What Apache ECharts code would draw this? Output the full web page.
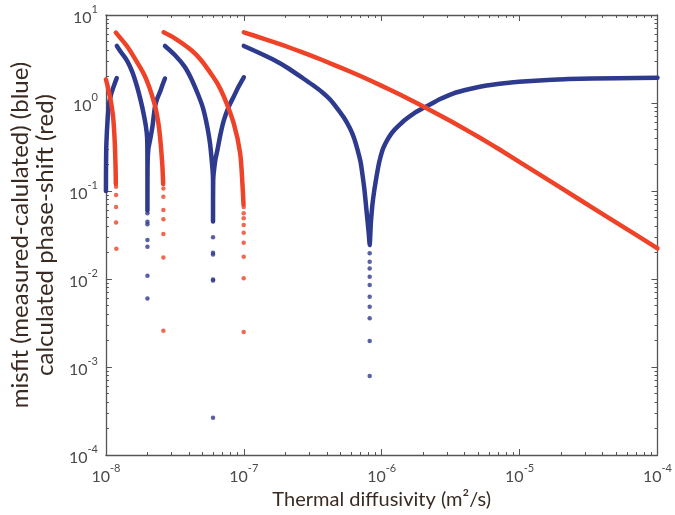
<!DOCTYPE html>
<html><head><meta charset="utf-8">
<script src="https://cdn.jsdelivr.net/npm/echarts@6/dist/echarts.min.js"></script>
<style>html,body{margin:0;padding:0;background:#fff}#c{width:675px;height:515px}</style>
</head><body><div id="c"></div>
<script>
// ---- tick labels ----
const xTicks = [1e-8, 1e-7, 1e-6, 1e-5, 1e-4];
const yTicks = [1e-4, 1e-3, 1e-2, 1e-1, 1e0, 1e1];
const xTitle = 'Thermal diffusivity (m\u00b2/s)';
const yTitle = 'misfit (measured-calulated) (blue)\ncalculated phase-shift (red)';

// ---- blue series: misfit (measured - calculated) ----
const blueCurve1 = [[1.0e-8,0.1],[1.002e-8,0.2],[1.008e-8,0.35],[1.028e-8,0.64],[1.055e-8,1.0],[1.085e-8,1.22],[1.116e-8,1.41],[1.16e-8,1.68],[1.198e-8,1.92]];
const blueCurve2 = [[1.2e-8,4.45],[1.279e-8,3.83],[1.428e-8,3.0],[1.55e-8,2.27],[1.683e-8,1.53],[1.797e-8,1.03],[1.875e-8,0.76],[1.95e-8,0.54],[1.99e-8,0.40],[2.0e-8,0.2],[2.0e-8,0.06],[2.005e-8,0.2],[2.03e-8,0.3],[2.09e-8,0.38],[2.174e-8,0.54],[2.27e-8,0.91],[2.36e-8,1.13],[2.47e-8,1.34],[2.57e-8,1.6],[2.68e-8,1.9]];
const blueDots2 = [[2.0e-8,0.056],[2.0e-8,0.0448],[2.0e-8,0.042],[2.0e-8,0.0277],[2.0e-8,0.0233],[2.0e-8,0.0109],[2.0e-8,0.006]];
const blueCurve3 = [[2.68e-8,4.45],[3.16e-8,3.51],[3.72e-8,2.59],[4.15e-8,1.9],[4.62e-8,1.29],[5.02e-8,0.91],[5.31e-8,0.64],[5.6e-8,0.41],[5.76e-8,0.29],[5.98e-8,0.133],[5.98e-8,0.045],[6.0e-8,0.133],[6.2e-8,0.22],[6.43e-8,0.29],[6.79e-8,0.45],[7.17e-8,0.64],[7.78e-8,0.91],[8.44e-8,1.18],[9.15e-8,1.53],[1.0e-7,1.96]];
const blueDots3 = [[5.98e-8,0.0298],[5.98e-8,0.0199],[5.98e-8,0.019],[5.98e-8,0.0099],[5.98e-8,0.0096],[5.98e-8,0.000265]];
const blueCurve4 = [[1.0e-7,4.45],[1.274e-7,3.75],[1.63e-7,3.12],[2.085e-7,2.50],[2.667e-7,1.923],[3.142e-7,1.61],[3.703e-7,1.327],[4.224e-7,1.096],[4.738e-7,0.877],[5.316e-7,0.684],[5.87e-7,0.52],[6.262e-7,0.411],[6.69e-7,0.292],[7.027e-7,0.2136],[7.26e-7,0.152],[7.5e-7,0.1027],[7.687e-7,0.0693],[7.88e-7,0.0468],[8.05e-7,0.0333],[8.18e-7,0.0243],
  [8.35e-7,0.0444],[8.556e-7,0.0693],[8.84e-7,0.1027],[9.21e-7,0.152],[9.6e-7,0.2136],[1.0084e-6,0.285],[1.059e-6,0.342],[1.131e-6,0.411],[1.208e-6,0.4745],[1.305e-6,0.538],[1.471e-6,0.641],[1.714e-6,0.764],[1.912e-6,0.844],[2.135e-6,0.924],[2.655e-6,1.11],[3.288e-6,1.282],[4.345e-6,1.443],[5.745e-6,1.58],[7.72e-6,1.675],[9.88e-6,1.746],[1.489e-5,1.816],[2.245e-5,1.874],[5.1e-5,1.909],[1.0e-4,1.94]];
const blueDots4 = [[8.18e-7,0.0196],[8.18e-7,0.0157],[8.18e-7,0.0132],[8.18e-7,0.0106],[8.18e-7,0.00855],[8.18e-7,0.0063],[8.18e-7,0.00485],[8.18e-7,0.00358],[8.18e-7,0.00197],[8.18e-7,0.00079]];

// ---- red series: calculated phase-shift ----
const redCurve1 = [[1.0e-8,1.85],[1.03e-8,1.55],[1.05e-8,1.33],[1.08e-8,1.1],[1.103e-8,0.9],[1.125e-8,0.72],[1.14e-8,0.56],[1.155e-8,0.4],[1.165e-8,0.29],[1.175e-8,0.18],[1.18e-8,0.12]];
const redDots1 = [[1.185e-8,0.112],[1.185e-8,0.09],[1.185e-8,0.066],[1.185e-8,0.044],[1.19e-8,0.022]];
const redCurve2 = [[1.18e-8,6.3],[1.279e-8,5.43],[1.428e-8,4.39],[1.591e-8,3.36],[1.875e-8,2.17],[2.036e-8,1.6],[2.21e-8,1.08],[2.31e-8,0.83],[2.44e-8,0.49],[2.56e-8,0.206],[2.6e-8,0.12]];
const redDots2 = [[2.61e-8,0.107],[2.61e-8,0.086],[2.61e-8,0.061],[2.61e-8,0.0476],[2.61e-8,0.0325],[2.61e-8,0.0175],[2.61e-8,0.00258]];
const redCurve3 = [[2.62e-8,6.36],[3.16e-8,5.43],[4.15e-8,4.0],[4.89e-8,3.08],[5.76e-8,2.17],[6.43e-8,1.67],[7.17e-8,1.18],[8.44e-8,0.59],[9.4e-8,0.27],[9.8e-8,0.111],[9.95e-8,0.07]];
const redDots3 = [[9.98e-8,0.066],[9.98e-8,0.056],[9.98e-8,0.049],[9.98e-8,0.041],[9.98e-8,0.0336],[9.98e-8,0.0259],[9.98e-8,0.0179],[9.98e-8,0.0102],[9.98e-8,0.0025]];
const redCurve4 = [[1.0e-7,6.36],[1.383e-7,5.40],[1.92e-7,4.54],[2.667e-7,3.76],[3.703e-7,3.08],[5.143e-7,2.49],[7.14e-7,2.0],[9.92e-7,1.576],[1.377e-6,1.23],[1.912e-6,0.949],[2.655e-6,0.723],[3.687e-6,0.545],[5.12e-6,0.405],[7.11e-6,0.298],[1.372e-5,0.1564],[2.645e-5,0.0822],[5.1e-5,0.0432],[1.0e-4,0.0223]];

const BLUE = '#2e3a8e', RED = '#ee4328';
const FONT = 'Lato, "Open Sans", sans-serif';
const AX = '#4a4a4a';

function minorOf(ticks){ const out=[]; for(let i=0;i<ticks.length-1;i++){ for(let k=2;k<=9;k++) out.push(k*ticks[i]); } return out; }
const xMinor = minorOf(xTicks), yMinor = minorOf(yTicks);

const rich = {
  b:{fontSize:16, fontFamily:FONT, color:AX, lineHeight:22, verticalAlign:'bottom'},
  s:{fontSize:11, fontFamily:FONT, color:AX, lineHeight:10, verticalAlign:'top'}
};
const fmt = v => '{b|10}{s|' + Math.round(Math.log10(v)) + '}';

function axis(ticks, minor, pos, isMain, isMinor, extra){
  const a = {
    type:'log', logBase:10, min:ticks[0], max:ticks[ticks.length-1], position:pos,
    splitLine:{show:false}, minorTick:{show:false}, minorSplitLine:{show:false},
    axisLine:{show:!isMinor, lineStyle:{color:'#555', width:1.3}},
    axisTick:{show:true, inside:true, length:isMinor?3:6, customValues:isMinor?minor:ticks, lineStyle:{color:'#555', width:1}},
    axisLabel:{show:isMain, customValues:ticks, formatter:fmt, rich:rich, margin:8},
    silent:true
  };
  return Object.assign(a, extra||{});
}

const xAxes = [
  axis(xTicks, xMinor, 'bottom', true, false, {
    name:xTitle, nameLocation:'middle', nameGap:29,
    nameTextStyle:{fontFamily:FONT, fontSize:20, color:'#3a2b22'}
  }),
  axis(xTicks, xMinor, 'bottom', false, true),
  axis(xTicks, xMinor, 'top', false, false),
  axis(xTicks, xMinor, 'top', false, true)
];
const yAxes = [
  axis(yTicks, yMinor, 'left', true, false, {
    name:yTitle, nameLocation:'middle', nameGap:34, nameRotate:90,
    nameTextStyle:{fontFamily:FONT, fontSize:24, color:'#3a2b22', lineHeight:25}
  }),
  axis(yTicks, yMinor, 'left', false, true),
  axis(yTicks, yMinor, 'right', false, false),
  axis(yTicks, yMinor, 'right', false, true)
];

function curve(data, color, sm){
  return {type:'line', data:data, smooth:sm, showSymbol:false, symbol:'none', clip:true,
    lineStyle:{color:color, width:4.5, cap:'round', join:'round'}, itemStyle:{color:color}, silent:true, animation:false};
}
function dots(data, color){
  return {type:'scatter', data:data, symbol:'circle', symbolSize:4.5, itemStyle:{color:color}, silent:true, animation:false};
}

const series = [
  curve(blueCurve1, BLUE, 0.3), curve(blueCurve2, BLUE, 0.3), dots(blueDots2, BLUE),
  curve(blueCurve3, BLUE, 0.3), dots(blueDots3, BLUE), curve(blueCurve4, BLUE, 0.15), dots(blueDots4, BLUE),
  curve(redCurve1, RED, 0.3), dots(redDots1, RED), curve(redCurve2, RED, 0.3), dots(redDots2, RED),
  curve(redCurve3, RED, 0.3), dots(redDots3, RED), curve(redCurve4, RED, 0.15)
];

const chart = echarts.init(document.getElementById('c'), null, {renderer:'canvas'});
chart.setOption({
  animation:false,
  backgroundColor:'#fff',
  grid:{left:100, right:14, top:15, bottom:60, containLabel:false},
  xAxis:xAxes, yAxis:yAxes, series:series
});
</script></body></html>
